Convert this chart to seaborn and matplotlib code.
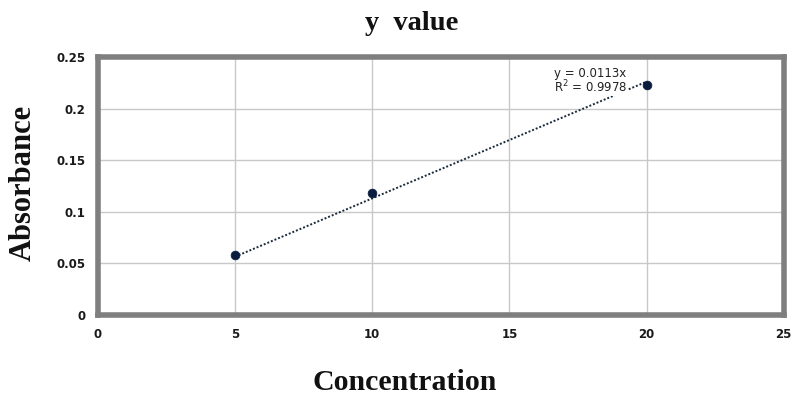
import numpy as np
import pandas as pd
import matplotlib
matplotlib.use('Agg')
import matplotlib.pyplot as plt
import seaborn as sns

# Data
concentration = [5, 10, 20]
absorbance = [0.0585, 0.118, 0.223]
slope = 0.0113
r_squared = 0.9978
trend_x = [5, 20]
x_ticks = [0, 5, 10, 15, 20, 25]
y_ticks = [0, 0.05, 0.1, 0.15, 0.2, 0.25]
y_tick_labels = ['0', '0.05', '0.1', '0.15', '0.2', '0.25']

df = pd.DataFrame({'conc': concentration, 'abs': absorbance})
trend_df = pd.DataFrame({'conc': trend_x, 'abs': [slope * v for v in trend_x]})

sns.set_style('whitegrid', {'grid.color': '#c8c8c8', 'axes.edgecolor': '#7f7f7f'})

fig = plt.figure(figsize=(7.94, 3.98), dpi=100)
ax = fig.add_axes([0.1234, 0.2085, 0.8636, 0.6485])

# Trendline (dotted) then the points
sns.lineplot(x='conc', y='abs', data=trend_df, ax=ax, color='#1a2a3a',
             linestyle=(0, (1, 1)), linewidth=1.4, zorder=2)
sns.scatterplot(x='conc', y='abs', data=df, ax=ax, color='#0b1d3f',
                s=40, edgecolor='#0b1d3f', zorder=4)

ax.text(17.95, 0.2265, 'y = %.4fx\nR$^2$ = %.4f' % (slope, r_squared),
        ha='center', va='center', fontsize=8.5, color='#222222',
        linespacing=0.95, zorder=3,
        bbox=dict(facecolor='white', edgecolor='none', pad=0.5))

ax.set_xlim(0, 25)
ax.set_ylim(0, 0.25)
ax.set_xticks(x_ticks)
ax.set_yticks(y_ticks)
ax.set_yticklabels(y_tick_labels)
ax.tick_params(axis='both', length=0, labelsize=8.5, labelcolor='#1a1a1a', pad=9)
for lab in ax.get_xticklabels() + ax.get_yticklabels():
    lab.set_fontweight('bold')
ax.grid(True, color='#c8c8c8', linewidth=1)

for s in ax.spines.values():
    s.set_visible(True)
    s.set_color('#7f7f7f')
    s.set_linewidth(4)

ax.set_xlabel('')
ax.set_ylabel('')
fig.text(0.51, 0.04, 'Concentration', ha='center', va='center',
         fontsize=21.5, fontweight='bold', family='Liberation Serif', color='#111111')
fig.text(0.029, 0.54, 'Absorbance', ha='center', va='center', rotation=90,
         fontsize=22, fontweight='bold', family='Liberation Serif', color='#111111')
fig.text(0.518, 0.94, 'y  value', ha='center', va='center',
         fontsize=20.5, fontweight='bold', family='Liberation Serif', color='#111111')

fig.savefig('out.png', dpi=100)
